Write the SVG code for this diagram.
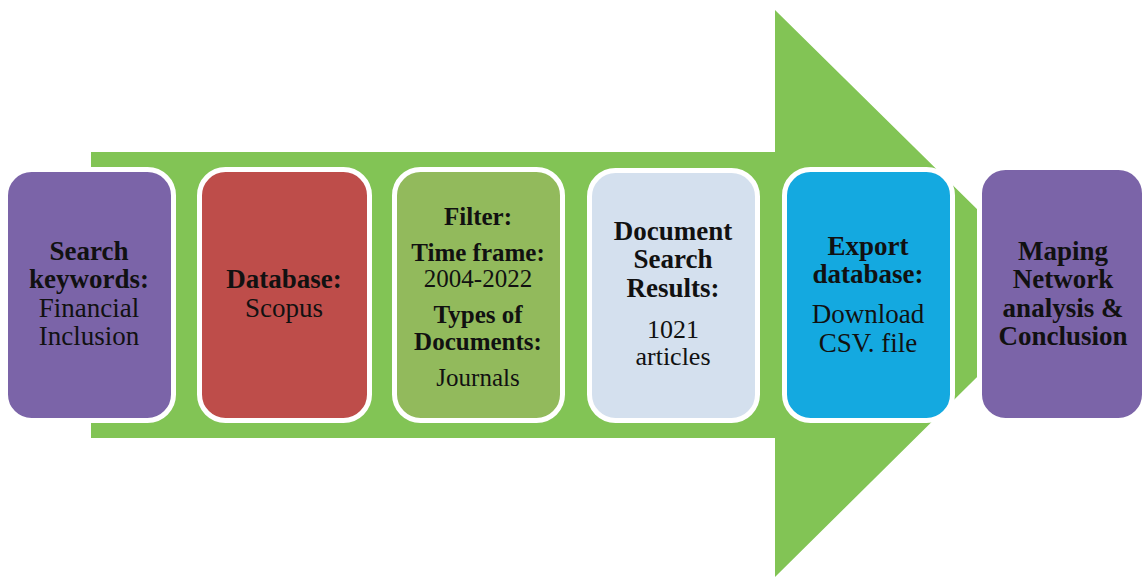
<svg xmlns="http://www.w3.org/2000/svg" width="1144" height="577" viewBox="0 0 1144 577">
<style>
.box{stroke:#ffffff;stroke-width:5}
text{font-family:"Liberation Serif","Times New Roman",serif;font-size:27px;fill:#111;text-anchor:middle}
.b{font-weight:bold}
.s{font-size:25px}
.m{font-size:26px}
</style>
<rect width="1144" height="577" fill="#ffffff"/>
<g id="connectors">
<path id="big-arrow" d="M91,152 H775 V10 L1062,293 L775,577 V438 H91 Z" fill="#82C455"/>
</g>
<g id="n1">
<rect class="box" x="5.5" y="169.5" width="168" height="251" rx="26" fill="#7B64A8"/>
<text x="89" y="260" class="b">Search</text>
<text x="89" y="288" class="b">keywords:</text>
<text x="89" y="317">Financial</text>
<text x="89" y="345">Inclusion</text>
</g>
<g id="n2">
<rect class="box" x="199.5" y="169.5" width="170" height="251" rx="26" fill="#BE4D4A"/>
<text x="284" y="288" class="b">Database:</text>
<text x="284" y="317">Scopus</text>
</g>
<g id="n3">
<rect class="box" x="394.5" y="169.5" width="168" height="251" rx="26" fill="#92BA5C"/>
<text x="478" y="225" class="b s">Filter:</text>
<text x="478" y="261" class="b s">Time frame:</text>
<text x="478" y="287" class="s">2004-2022</text>
<text x="478" y="323" class="b s">Types of</text>
<text x="478" y="350" class="b s">Documents:</text>
<text x="478" y="386" class="s">Journals</text>
</g>
<g id="n4">
<rect class="box" x="589.5" y="170.5" width="168" height="250" rx="26" fill="#D4E0EE"/>
<text x="673" y="240" class="b">Document</text>
<text x="673" y="268" class="b">Search</text>
<text x="673" y="297" class="b">Results:</text>
<text x="673" y="338" class="m">1021</text>
<text x="673" y="365" class="m">articles</text>
</g>
<g id="n5">
<rect class="box" x="784.5" y="169.5" width="168" height="251" rx="26" fill="#14A9E0"/>
<text x="868" y="255" class="b">Export</text>
<text x="868" y="283" class="b">database:</text>
<text x="868" y="323">Download</text>
<text x="868" y="352">CSV. file</text>
</g>
<g id="n6">
<rect class="box" x="979.5" y="167.5" width="165" height="253" rx="26" fill="#7B64A8"/>
<text x="1063" y="260" class="b">Maping</text>
<text x="1063" y="288" class="b">Network</text>
<text x="1063" y="317" class="b">analysis &amp;</text>
<text x="1063" y="345" class="b">Conclusion</text>
</g>
</svg>
